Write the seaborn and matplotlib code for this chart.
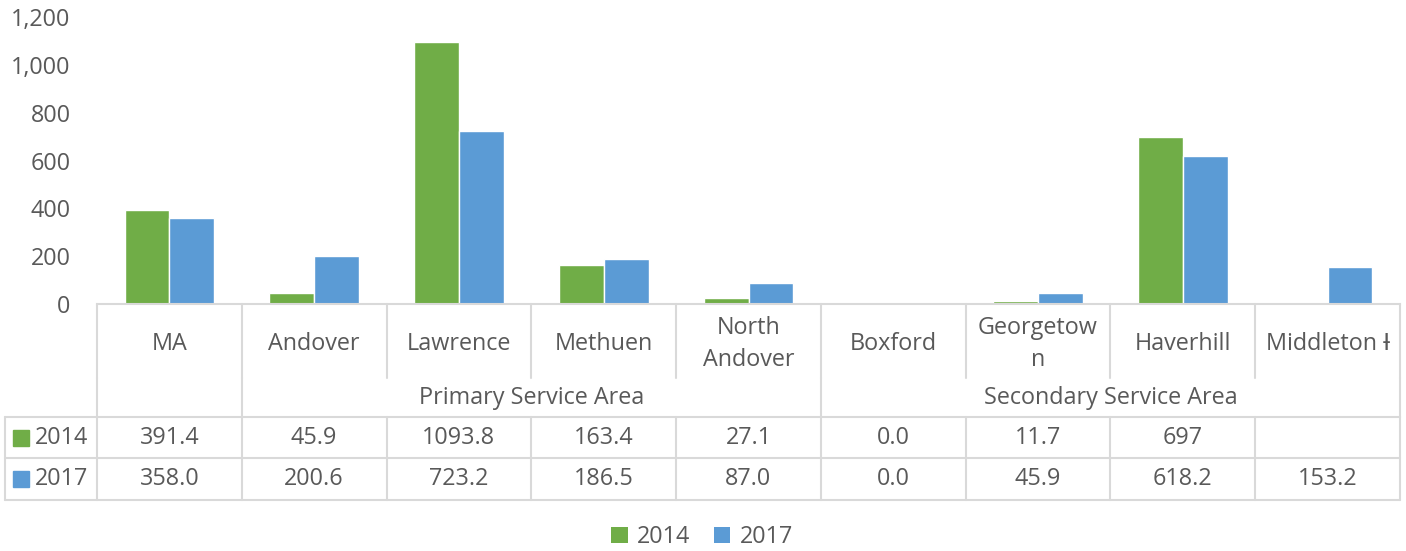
import numpy as np
import pandas as pd
import matplotlib
matplotlib.use("Agg")
import matplotlib.pyplot as plt
import matplotlib.transforms as mtransforms
from matplotlib.patches import Patch
import seaborn as sns

# data
towns = ["MA", "Andover", "Lawrence", "Methuen", "North Andover",
         "Boxford", "Georgetown", "Haverhill", "Middleton \u0197"]
town_labels = ["MA", "Andover", "Lawrence", "Methuen", "North\nAndover",
               "Boxford", "Georgetow\nn", "Haverhill", "Middleton \u0197"]
years = ["2014", "2017"]
values_2014 = [391.4, 45.9, 1093.8, 163.4, 27.1, 0.0, 11.7, 697.0, np.nan]
values_2017 = [358.0, 200.6, 723.2, 186.5, 87.0, 0.0, 45.9, 618.2, 153.2]
table_2014 = ["391.4", "45.9", "1093.8", "163.4", "27.1", "0.0", "11.7", "697", ""]
table_2017 = ["358.0", "200.6", "723.2", "186.5", "87.0", "0.0", "45.9", "618.2", "153.2"]
# service area groups: (label, first index, last index)
groups = [("", 0, 0), ("Primary Service Area", 1, 4), ("Secondary Service Area", 5, 8)]

colors = {"2014": "#70AD47", "2017": "#5B9BD5"}
text_color = "#595959"
grid_color = "#D9D9D9"
fs = 16.8

df = pd.DataFrame({
    "town": towns * 2,
    "year": ["2014"] * len(towns) + ["2017"] * len(towns),
    "value": values_2014 + values_2017,
})

sns.set_style("white")
plt.rcParams["font.family"] = ["Open Sans", "DejaVu Sans"]

fig = plt.figure(figsize=(14.06, 5.51), dpi=100)
ax = fig.add_axes([97 / 1406, 247 / 551, 1303 / 1406, 287 / 551])

sns.barplot(data=df, x="town", y="value", hue="year", hue_order=years,
            palette=colors, width=0.62, gap=0, saturation=1, legend=False, ax=ax)

ax.set_ylim(0, 1200)
ax.set_xlim(-0.5, len(towns) - 0.5)
ax.set_yticks(range(0, 1201, 200))
ax.set_yticklabels([f"{v:,}" for v in range(0, 1201, 200)])
ax.tick_params(axis="y", length=0, pad=19, labelsize=fs, labelcolor=text_color)
ax.set_xticks([])
ax.set_xlabel("")
ax.set_ylabel("")
for side in ["top", "right", "left"]:
    ax.spines[side].set_visible(False)
ax.spines["bottom"].set_color(grid_color)
ax.spines["bottom"].set_linewidth(1.5)

# data table under the plot
trans = mtransforms.blended_transform_factory(ax.transData, ax.transAxes)
px = 1 / 287.0
y_cat_bot = -74 * px
y_grp_bot = -113 * px
y_r1_bot = -154 * px
y_r2_bot = -196 * px
x_left = -0.5 - 92 / 145.4
n = len(towns)
lkw = dict(color=grid_color, lw=1.5, transform=trans, clip_on=False)

for k in range(n + 1):
    ax.plot([k - 0.5, k - 0.5], [0, y_cat_bot], **lkw)
for _, i0, i1 in groups:
    ax.plot([i0 - 0.5, i0 - 0.5], [y_cat_bot, y_grp_bot], **lkw)
ax.plot([n - 0.5, n - 0.5], [y_cat_bot, y_grp_bot], **lkw)
for k in range(n + 1):
    ax.plot([k - 0.5, k - 0.5], [y_grp_bot, y_r2_bot], **lkw)
ax.plot([x_left, x_left], [y_grp_bot, y_r2_bot], **lkw)
for yy in [y_grp_bot, y_r1_bot, y_r2_bot]:
    ax.plot([x_left, n - 0.5], [yy, yy], **lkw)

tkw = dict(transform=trans, ha="center", va="center", color=text_color,
           fontsize=fs, clip_on=False)
for i, lab in enumerate(town_labels):
    ax.text(i, (y_cat_bot - 6 * px) / 2, lab, linespacing=1.45, **tkw)
for lab, i0, i1 in groups:
    ax.text((i0 + i1) / 2, (y_cat_bot + y_grp_bot) / 2, lab, **tkw)
for i in range(n):
    ax.text(i, (y_grp_bot + y_r1_bot) / 2, table_2014[i], **tkw)
    ax.text(i, (y_r1_bot + y_r2_bot) / 2, table_2017[i], **tkw)

for yr, y0, y1 in [("2014", y_grp_bot, y_r1_bot), ("2017", y_r1_bot, y_r2_bot)]:
    ym = (y0 + y1) / 2
    ax.plot([-0.5 - 76 / 145.4], [ym], marker="s", ms=11, color=colors[yr],
            transform=trans, clip_on=False)
    ax.text(-0.5 - 62 / 145.4, ym, yr, transform=trans, ha="left", va="center",
            color=text_color, fontsize=fs, clip_on=False)

handles = [Patch(facecolor=colors[y], edgecolor="none", label=y) for y in years]
fig.legend(handles=handles, loc="center", bbox_to_anchor=(702 / 1406, 14 / 551),
           ncol=2, frameon=False, fontsize=fs, labelcolor=text_color,
           handlelength=0.7, handleheight=0.7, handletextpad=0.4, columnspacing=1.0)

fig.savefig("out.png", dpi=100)
